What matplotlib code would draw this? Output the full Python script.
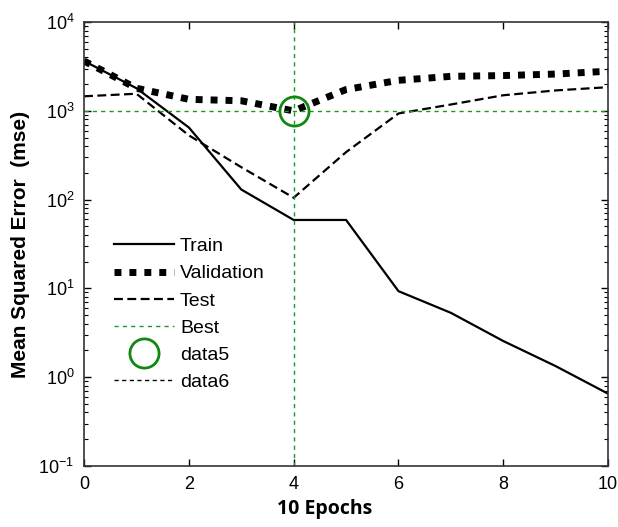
import numpy as np
from matplotlib import pyplot as plt
from matplotlib.ticker import LogLocator, FixedLocator, NullFormatter

plt.rcParams["font.family"] = ["Liberation Sans", "DejaVu Sans"]
plt.rcParams["mathtext.fontset"] = "custom"
plt.rcParams["mathtext.rm"] = "Liberation Sans"
plt.rcParams["mathtext.default"] = "regular"

epochs = [0, 1, 2, 3, 4, 5, 6, 7, 8, 9, 10]
train = [3650, 1800, 650, 130, 59, 59, 9.3, 5.3, 2.55, 1.33, 0.65]
validation = [3650, 1800, 1350, 1300, 1000, 1740, 2210, 2450, 2500, 2600, 2800]
test = [1460, 1560, 530, 232, 105, 343, 935, 1180, 1500, 1700, 1850]
best_epoch = 4
best_perf = 1000

fig = plt.figure(figsize=(6.18, 5.27), dpi=100)
ax = fig.add_axes([0.136, 0.116, 0.848, 0.842])

ax.semilogy(epochs, train, color="black", lw=1.6, label="Train")
ax.semilogy(epochs, validation, color="black", lw=5, linestyle=(0, (1, 1.15)),
            dash_capstyle="butt", label="Validation")
ax.semilogy(epochs, test, color="black", lw=1.6, linestyle=(0, (4, 2)), label="Test")
ax.axvline(best_epoch, color="#1a9a1a", lw=1.0, linestyle=(0, (3, 3)), label="Best")
ax.axhline(best_perf, color="#1a9a1a", lw=1.0, linestyle=(0, (3, 3)))
ax.plot([best_epoch], [best_perf], "o", ms=21, mfc="none", mec="#118811", mew=2,
        label="data5")
ax.plot([], [], color="black", lw=1.0, linestyle=(0, (3, 2.5)), label="data6")

ax.set_xlim(0, 10)
ax.set_ylim(0.1, 10000)
ax.xaxis.set_major_locator(FixedLocator([0, 2, 4, 6, 8, 10]))
ax.yaxis.set_major_locator(LogLocator(base=10, numticks=10))
ax.yaxis.set_minor_locator(LogLocator(base=10, subs=np.arange(2, 10), numticks=10))
ax.yaxis.set_minor_formatter(NullFormatter())
ax.tick_params(which="both", direction="in", top=True, right=True, labelsize=13,
               pad=7)
ax.tick_params(which="major", length=5, width=1)
ax.tick_params(which="minor", length=3, width=0.8)
for s in ax.spines.values():
    s.set_linewidth(1.2)
    s.set_color("#333333")

ax.set_ylabel("Mean Squared Error  (mse)", fontsize=15, fontweight="bold", labelpad=6)
ax.set_xlabel("10 Epochs", fontsize=14, fontweight="bold", family="Open Sans",
              labelpad=3)
ax.xaxis.set_label_coords(0.46, -0.075)

ax.legend(loc="upper left", bbox_to_anchor=(0.031, 0.545), frameon=False,
          fontsize=14, handlelength=3.1, numpoints=1, labelspacing=0.49,
          handletextpad=0.3, borderaxespad=0.3)

fig.savefig("out.png", dpi=100)
